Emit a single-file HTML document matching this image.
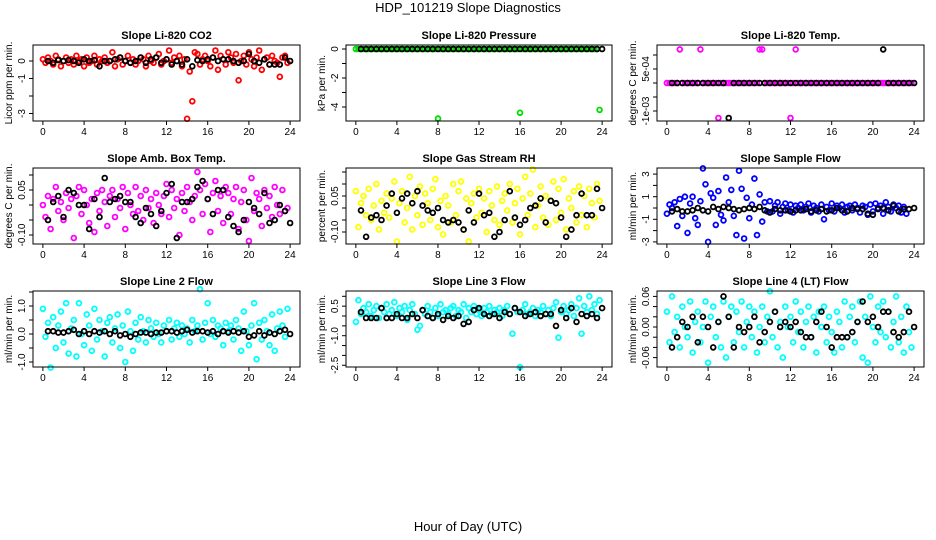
<!DOCTYPE html>
<html><head><meta charset="utf-8"><style>
html,body{margin:0;padding:0;background:#fff;}
svg{display:block;font-family:"Liberation Sans",sans-serif;}
</style></head><body>
<svg id="chart" width="936" height="540" viewBox="0 0 936 540">
<text x="468" y="12" text-anchor="middle" font-size="13">HDP_101219  Slope Diagnostics</text>
<text x="468" y="531" text-anchor="middle" font-size="13">Hour of Day (UTC)</text>
</svg>
<script>
// Colored series sampled every 0.25 h (96 values), black series every 0.5 h starting 0.5 (48 values)
const hourTicks = [0,4,8,12,16,20,24];
const co2Color = [0.1,-0.1,0.2,0.0,-0.2,0.3,0.1,-0.3,0.0,0.2,-0.1,0.1,-0.2,0.3,0.0,0.1,-0.3,0.2,-0.1,0.0,0.3,-0.2,0.1,0.0,0.2,-0.1,0.0,0.5,-0.3,0.1,0.2,-0.2,0.0,0.3,-0.1,0.1,-0.2,0.0,0.2,0.1,-0.3,0.3,0.0,-0.1,0.2,0.4,-0.2,0.0,0.1,0.6,-0.1,0.2,0.0,0.3,-0.3,0.1,-3.3,-0.6,-2.3,0.5,0.4,-0.2,0.1,0.3,0.0,-0.3,0.2,0.6,-0.5,0.3,0.1,-0.2,0.5,0.2,-0.1,0.4,-1.1,0.0,0.3,-0.2,0.5,0.1,-0.3,0.2,0.6,-0.5,0.1,0.2,-0.2,0.3,0.0,-0.1,-0.9,0.2,0.3,-0.1];
const co2Black = [0.0,-0.1,0.05,0.0,0.05,0.0,-0.1,0.1,0.0,0.05,-0.3,0.0,0.0,0.1,0.2,0.0,-0.1,0.0,0.2,-0.1,0.1,0.2,-0.1,0.1,-0.2,0.0,-0.2,0.1,-0.3,0.05,0.0,0.1,0.2,0.0,0.1,0.1,0.0,-0.1,0.0,0.4,0.0,-0.1,0.1,-0.2,-0.2,-0.2,0.2,0.0];
const presColor = [0,0,0,0,0,0,0,0,0,0,0,0,0,0,0,0,0,0,0,0,0,0,0,0,0,0,0,0,0,0,0,0,-4.8,0,0,0,0,0,0,0,0,0,0,0,0,0,0,0,0,0,0,0,0,0,0,0,0,0,0,0,0,0,0,0,-4.4,0,0,0,0,0,0,0,0,0,0,0,0,0,0,0,0,0,0,0,0,0,0,0,0,0,0,0,0,0,0,-4.2];
const presBlack = [0,0,0,0,0,0,0,0,0,0,0,0,0,0,0,0,0,0,0,0,0,0,0,0,0,0,0,0,0,0,0,0,0,0,0,0,0,0,0,0,0,0,0,0,0,0,0,0];
const tempColor = [0,0,0,0,0,0.0012,0,0,0,0,0,0,0,0.0012,0,0,0,0,0,0,-0.00125,0,0,0,0,0,0,0,0,0,0,0,0,0,0,0,0.0012,0.0012,0,0,0,0,0,0,0,0,0,0,-0.00125,0,0.0012,0,0,0,0,0,0,0,0,0,0,0,0,0,0,0,0,0,0,0,0,0,0,0,0,0,0,0,0,0,0,0,0,0,0,0,0,0,0,0,0,0,0,0,0,0];
const tempBlack = [0,0,0,0,0,0,0,0,0,0,0,-0.00125,0,0,0,0,0,0,0,0,0,0,0,0,0,0,0,0,0,0,0,0,0,0,0,0,0,0,0,0,0,0.0012,0,0,0,0,0,0];
const ambColor = [0.00,-0.04,0.03,-0.08,0.02,0.06,-0.02,0.01,-0.05,0.04,-0.01,0.02,-0.11,0.03,0.06,-0.03,0.05,0.00,-0.06,0.02,-0.09,0.04,-0.02,0.05,0.01,-0.07,0.03,0.05,-0.04,0.02,-0.01,0.06,-0.08,0.04,0.00,-0.03,0.06,-0.02,0.03,-0.05,0.05,-0.01,0.02,-0.06,0.04,0.00,-0.03,0.03,0.07,-0.04,0.05,-0.01,0.02,-0.10,0.04,-0.02,0.06,0.01,-0.05,0.03,0.11,0.05,-0.03,0.07,0.02,-0.09,0.04,0.08,-0.02,0.03,-0.06,0.06,0.04,-0.03,0.02,0.06,-0.08,0.01,0.05,-0.05,-0.12,0.09,-0.02,0.04,0.02,-0.07,0.05,-0.01,0.03,-0.04,0.06,0.00,-0.03,0.05,-0.02,-0.01];
const ambBlack = [-0.05,0.01,0.03,-0.04,0.05,0.04,0.00,0.00,-0.08,0.02,-0.04,0.09,0.01,0.02,0.03,0.01,0.01,-0.04,-0.06,-0.01,-0.03,-0.07,-0.02,0.04,0.07,-0.11,0.01,0.01,0.02,0.06,0.08,0.02,-0.03,0.05,0.05,-0.04,-0.07,-0.09,-0.05,0.01,-0.01,-0.03,0.04,-0.06,-0.05,0.00,-0.02,-0.06];
const rhColor = [0.07,-0.08,0.02,0.05,-0.03,0.08,-0.05,0.01,0.10,-0.09,0.03,-0.02,0.06,-0.04,0.04,0.11,-0.14,0.02,0.07,-0.06,0.00,0.13,-0.09,0.05,-0.03,0.09,-0.07,0.06,0.02,-0.05,0.08,0.12,-0.08,0.03,-0.11,0.05,0.01,-0.06,0.10,-0.03,0.07,0.11,-0.09,0.04,-0.14,0.02,0.06,-0.04,0.08,-0.02,0.04,-0.10,0.07,0.01,-0.05,0.09,-0.07,0.03,0.06,-0.01,0.10,-0.06,0.02,0.08,-0.11,0.04,0.13,-0.03,0.06,0.16,-0.08,0.01,0.09,-0.04,0.05,-0.07,0.03,0.11,-0.05,0.08,-0.02,0.12,-0.09,0.04,0.00,0.07,-0.06,0.09,-0.03,0.05,-0.08,0.08,0.02,-0.04,0.10,0.03];
const rhBlack = [-0.01,-0.12,-0.04,-0.03,-0.05,0.01,0.06,-0.02,0.04,0.06,0.02,0.07,0.01,-0.01,-0.02,0.00,-0.05,-0.06,-0.05,-0.06,-0.09,-0.01,-0.06,0.06,-0.03,-0.02,-0.12,-0.10,-0.05,0.07,-0.04,-0.07,-0.05,0.00,0.01,0.04,-0.06,0.03,0.02,-0.04,-0.12,-0.09,-0.03,0.06,-0.03,-0.03,0.08,0.00];
const sfColor = [-0.5,0.3,0.0,0.5,-1.6,0.8,-0.7,1.0,-2.2,0.4,1.0,-0.9,-1.5,0.6,3.5,2.1,-3.0,1.3,0.9,-1.5,1.5,-0.6,-1.1,2.7,0.5,1.6,-0.7,-2.4,3.3,1.7,-2.7,0.9,-0.9,0.3,2.6,-2.4,1.2,-1.2,0.5,-0.3,0.6,-0.3,0.2,0.5,-0.5,0.1,0.4,-0.2,0.3,-0.4,0.2,0.0,0.3,-0.2,0.1,0.4,-0.4,0.2,0.0,-0.3,0.3,-1.0,0.1,-0.2,0.4,-0.3,0.2,0.0,0.3,-0.4,0.1,0.2,-0.2,0.3,0.0,-0.4,0.2,0.1,-0.6,0.3,-0.3,0.4,0.0,0.2,-0.5,0.5,0.1,-0.3,0.3,0.0,0.2,-0.4,0.1,-0.5];
const sfBlack = [-0.3,-0.1,-0.3,-0.3,-0.2,0.0,-0.2,-0.3,0.1,-0.1,0.1,0.0,-0.1,-0.2,-0.1,0.0,-0.1,0.1,-0.2,-0.4,-0.1,-0.2,-0.2,-0.3,-0.2,-0.2,-0.1,-0.3,-0.2,-0.1,-0.3,-0.2,0.0,-0.2,-0.3,0.0,-0.1,-0.1,-0.5,-0.6,-0.1,0.0,-0.2,0.2,-0.3,-0.1,-0.1,0.0];
const l2Color = [0.9,-0.1,0.4,-1.2,0.6,-0.5,0.3,0.8,-0.3,1.1,-0.7,0.2,0.5,-0.8,1.1,0.0,-0.4,0.7,0.3,-0.6,0.9,-0.2,0.5,0.1,-0.8,0.4,0.6,-0.3,0.2,0.7,-0.5,0.3,-1.0,0.8,0.1,-0.6,0.4,-0.2,0.6,0.1,-0.3,0.5,0.2,-0.1,0.4,0.0,-0.3,0.3,0.1,0.5,-0.2,0.2,0.4,-0.1,0.3,0.0,0.2,-0.3,0.5,0.1,0.3,1.6,-0.2,0.4,1.1,0.0,0.5,-0.1,0.3,0.2,-0.4,0.4,0.1,0.3,-0.2,0.5,0.2,-0.6,0.8,0.1,-0.4,0.3,1.1,-0.9,0.4,-0.2,0.5,0.1,-0.4,0.7,-0.6,0.2,0.8,0.3,-0.1,0.9];
const l2Black = [0.1,0.1,0.05,0.05,0.1,0.15,0.0,0.1,0.0,0.1,0.05,0.1,0.0,0.1,-0.05,0.0,-0.1,0.0,0.05,0.05,0.0,0.05,0.05,0.1,0.1,0.05,0.1,0.15,0.05,0.1,0.1,0.05,0.1,0.0,0.1,0.05,0.1,0.05,0.1,-0.1,-0.05,0.1,-0.05,0.05,0.0,0.1,0.15,0.0];
const l3Color = [-0.3,0.8,0.1,0.4,0.2,0.6,0.0,0.3,0.5,-0.1,0.4,0.2,0.6,0.1,0.3,0.7,0.0,0.4,0.2,0.5,-0.2,0.3,0.6,0.1,-0.7,-0.5,0.3,0.1,0.5,0.2,-0.1,0.4,0.0,0.6,0.2,0.3,0.1,0.4,0.5,0.0,0.3,0.2,0.6,-0.1,0.4,0.2,0.5,0.1,0.3,0.0,0.4,0.2,0.5,0.1,0.3,0.2,0.4,0.0,0.3,0.5,0.1,-0.9,0.4,0.2,-2.6,0.3,0.6,0.1,0.2,0.4,0.0,0.3,0.2,0.5,0.1,0.3,0.0,0.4,0.7,-1.1,0.2,0.5,0.1,0.3,0.6,0.0,0.4,0.9,-0.9,0.5,0.2,1.0,0.3,0.6,0.1,0.8];
const l3Black = [0.2,-0.1,-0.1,-0.1,0.4,-0.1,-0.1,0.1,-0.1,-0.1,0.1,-0.1,0.3,0.0,-0.1,0.1,-0.2,0.0,-0.1,0.0,-0.4,-0.3,0.3,0.4,0.1,0.0,0.1,-0.1,0.2,0.1,0.4,0.2,0.0,0.1,0.2,0.0,0.1,0.1,-0.5,0.3,-0.1,0.4,-0.3,0.1,0.0,0.1,-0.1,0.4];
const l4Color = [0.03,-0.03,0.06,-0.01,0.02,-0.04,0.04,0.00,-0.02,0.05,-0.05,0.01,0.03,-0.03,0.00,0.05,-0.07,0.02,0.04,-0.02,0.01,-0.04,0.05,-0.06,0.02,0.04,-0.03,0.03,-0.01,0.05,-0.04,0.01,0.04,-0.02,0.03,-0.05,0.00,0.04,-0.03,0.02,0.07,-0.02,0.03,-0.04,0.01,-0.06,0.04,0.00,0.02,-0.03,0.05,-0.01,0.03,-0.04,0.01,0.04,-0.02,0.02,-0.05,0.03,0.00,0.04,-0.03,0.02,-0.01,-0.05,0.03,0.01,-0.04,0.05,-0.02,0.02,0.04,-0.03,0.01,0.05,-0.06,0.02,-0.07,0.06,0.00,-0.03,0.04,-0.01,0.05,-0.02,0.03,-0.04,0.01,0.06,-0.03,0.02,-0.05,0.04,-0.01,-0.04];
const l4Black = [-0.04,-0.02,0.01,0.00,0.02,-0.03,0.02,0.00,-0.04,0.01,0.06,0.02,-0.04,0.00,-0.01,0.00,0.02,-0.03,-0.01,0.01,0.03,0.00,0.01,0.00,0.01,-0.01,-0.02,-0.02,0.01,0.03,0.00,-0.04,-0.02,-0.02,-0.02,-0.01,0.01,0.05,0.01,0.02,0.00,0.03,0.03,-0.01,-0.02,-0.01,0.03,0.00];
const co2Ticks=[-3,-2,-1,0], co2Labels=["-3","","-1","0"];
const presTicks=[-4,-3,-2,-1,0], presLabels=["-4","","-2","","0"];
const tempTicks=[-0.001,-0.0005,0,0.0005,0.001], tempLabels=["-1e-03","","","5e-04",""];
const ambTicks=[-0.1,-0.05,0,0.05,0.1], ambLabels=["-0.10","","","0.05",""];
const rhTicks=[-0.1,-0.05,0,0.05,0.1,0.15], rhLabels=["-0.10","","","0.05","",""];
const sfTicks=[-3,-2,-1,0,1,2,3], sfLabels=["-3","","-1","","1","","3"];
const l2Ticks=[-1,-0.5,0,0.5,1,1.5], l2Labels=["-1.0","","0.0","","1.0",""];
const l3Ticks=[-2.5,-2,-1.5,-1,-0.5,0,0.5,1], l3Labels=["-2.5","","","-1.0","","","0.5",""];
const l4Ticks=[-0.06,-0.04,-0.02,0,0.02,0.04,0.06], l4Labels=["-0.06","","","0.00","","","0.06"];

const NS="http://www.w3.org/2000/svg";
const svg=document.getElementById('chart');
function mk(tag,attrs,parent){const e=document.createElementNS(NS,tag);for(const k in attrs)e.setAttribute(k,attrs[k]);(parent||svg).appendChild(e);return e;}
const cols=[{l:33,r:300},{l:346,r:612},{l:657,r:924}];
const rows=[{t:45,b:121},{t:168,b:244},{t:291,b:367}];
const panels=[
 {name:'co2',title:'Slope Li-820 CO2',ylab:'Licor ppm per min.',color:'#ff0000',c:co2Color,k:co2Black,ticks:co2Ticks,labels:co2Labels,y0:61,ppu:17.5,col:0,row:0},
 {name:'pressure',title:'Slope Li-820 Pressure',ylab:'kPa per min.',color:'#00dd00',c:presColor,k:presBlack,ticks:presTicks,labels:presLabels,y0:49,ppu:14.5,col:1,row:0},
 {name:'temp',title:'Slope Li-820 Temp.',ylab:'degrees C per min.',color:'#ff00ff',c:tempColor,k:tempBlack,ticks:tempTicks,labels:tempLabels,y0:83,ppu:28000,col:2,row:0},
 {name:'amb-box-temp',title:'Slope Amb. Box Temp.',ylab:'degrees C per min.',color:'#ff00ff',c:ambColor,k:ambBlack,ticks:ambTicks,labels:ambLabels,y0:205,ppu:300,col:0,row:1},
 {name:'gas-stream-rh',title:'Slope Gas Stream RH',ylab:'percent per min.',color:'#ffff00',c:rhColor,k:rhBlack,ticks:rhTicks,labels:rhLabels,y0:208,ppu:240,col:1,row:1},
 {name:'sample-flow',title:'Slope Sample Flow',ylab:'ml/min per min.',color:'#0000ff',c:sfColor,k:sfBlack,ticks:sfTicks,labels:sfLabels,y0:208,ppu:11.3,col:2,row:1},
 {name:'line2-flow',title:'Slope Line 2 Flow',ylab:'ml/min per min.',color:'#00ffff',c:l2Color,k:l2Black,ticks:l2Ticks,labels:l2Labels,y0:334,ppu:28,col:0,row:2},
 {name:'line3-flow',title:'Slope Line 3 Flow',ylab:'ml/min per min.',color:'#00ffff',c:l3Color,k:l3Black,ticks:l3Ticks,labels:l3Labels,y0:316,ppu:19.7,col:1,row:2},
 {name:'line4-flow',title:'Slope Line 4 (LT) Flow',ylab:'ml/min per min.',color:'#00ffff',c:l4Color,k:l4Black,ticks:l4Ticks,labels:l4Labels,y0:327,ppu:510,col:2,row:2}
];
panels.forEach(p=>{
 const C=cols[p.col],R=rows[p.row];
 const xs=h=>C.l+(h+0.96)/25.92*(C.r-C.l);
 const ys=v=>p.y0-v*p.ppu;
 const g=mk('g',{});
 
 
 const t=mk('text',{x:(C.l+C.r)/2,y:R.t-6,'text-anchor':'middle','font-size':'11','font-weight':'bold'},g);
 
 
 t.textContent=p.title;
 const pts=mk('g',{fill:'none','stroke-width':'1.8'},g);
 
 
 p.c.forEach((v,i)=>{const c=mk('circle',{cx:xs(i*0.25).toFixed(1),cy:ys(v).toFixed(1),r:2.4,stroke:p.color},pts);
  
  });
 p.k.forEach((v,i)=>{const c=mk('circle',{cx:xs(i*0.5+0.5).toFixed(1),cy:ys(v).toFixed(1),r:2.4,stroke:'#000'},pts);
  
  });
 const box=mk('rect',{x:C.l,y:R.t,width:C.r-C.l,height:R.b-R.t,fill:'none',stroke:'#000','stroke-width':'1'},g);
 
 
 const xa=mk('g',{},g);
 
 
 hourTicks.forEach(h=>{const x=xs(h);mk('line',{x1:x,x2:x,y1:R.b,y2:R.b+4,stroke:'#000'},xa);
  const tl=mk('text',{x:x,y:R.b+14,'text-anchor':'middle','font-size':'10'},xa);tl.textContent=h;});
 const ya=mk('g',{},g);
 
 
 p.ticks.forEach((v,i)=>{const y=ys(v);mk('line',{x1:C.l-4,x2:C.l,y1:y,y2:y,stroke:'#000'},ya);
  if(p.labels[i]){const tl=mk('text',{x:C.l-8,y:y,'text-anchor':'middle','font-size':'10',transform:`rotate(-90 ${C.l-8} ${y})`},ya);tl.textContent=p.labels[i];}});
 const ym=(R.t+R.b)/2;
 const yl=mk('text',{x:C.l-21,y:ym,'text-anchor':'middle','font-size':'10',transform:`rotate(-90 ${C.l-21} ${ym})`},g);
 
 
 yl.textContent=p.ylab;
});
</script>
</body></html>
